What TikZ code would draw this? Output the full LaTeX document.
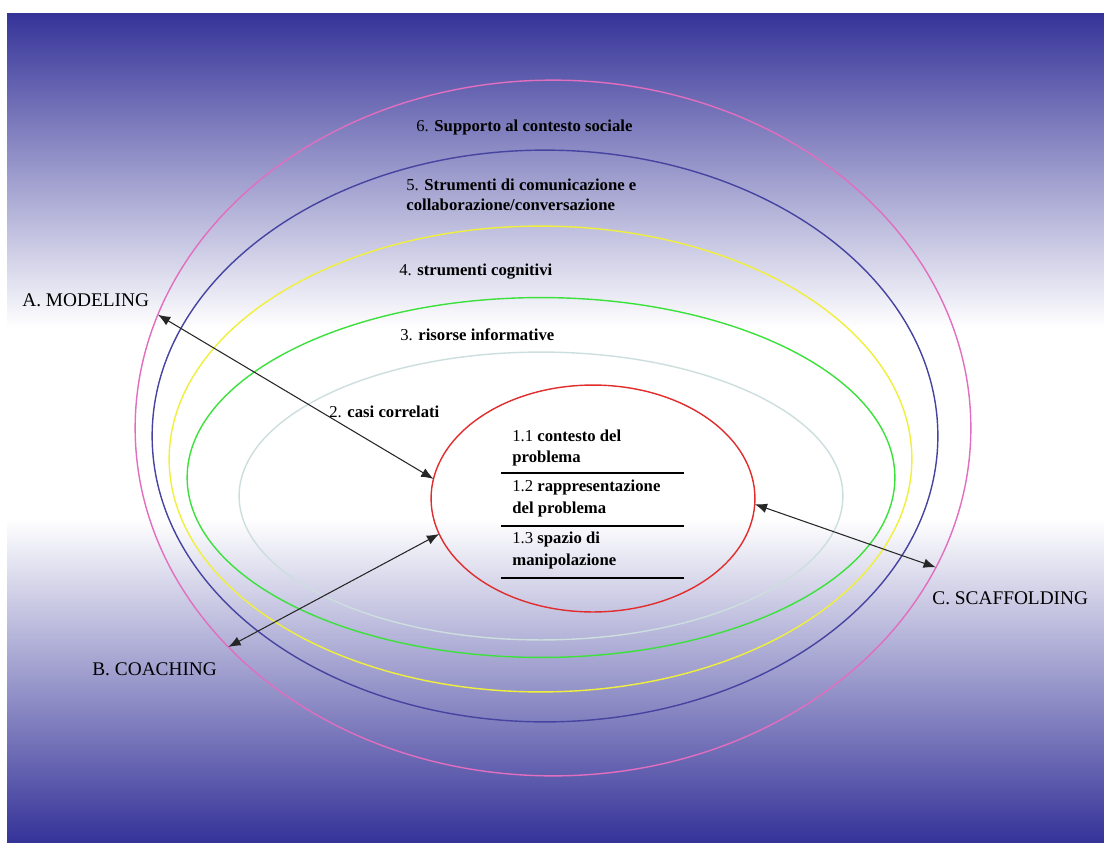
\documentclass[tikz,border=0pt]{standalone}
\usepackage{fontspec}
\setmainfont{Liberation Serif}
\usetikzlibrary{shapes.geometric,arrows.meta}

\definecolor{bgblue}{RGB}{53,51,152}
\definecolor{ringpink}{RGB}{225,110,190}
\definecolor{ringblue}{RGB}{70,68,160}
\definecolor{ringyellow}{RGB}{240,240,60}
\definecolor{ringgreen}{RGB}{60,225,60}
\definecolor{ringpale}{RGB}{205,222,222}
\definecolor{ringred}{RGB}{225,45,45}

\pgfdeclareverticalshading{bgfade}{100bp}{color(0bp)=(bgblue); color(25bp)=(bgblue);
	color(44.5bp)=(white); color(56bp)=(white); color(75bp)=(bgblue); color(100bp)=(bgblue)}

\tikzset{
	ring/.style={ellipse, draw, inner sep=0pt, outer sep=0pt, line width=0.8pt},
	layer/.style={font=\fontsize{9.5}{11.5}\selectfont, anchor=west, align=left, inner sep=0pt},
	part/.style={font=\fontsize{9.5}{12.4}\selectfont, anchor=west, align=left, inner sep=0pt},
	phase/.style={font=\fontsize{11}{13}\selectfont, anchor=west, inner sep=0pt},
	link/.style={{Latex[length=7pt,width=5.5pt]}-{Latex[length=7pt,width=5.5pt]}, line width=0.6pt, black!85}
}

\begin{document}
\begin{tikzpicture}[x=0.02cm, y=-0.02cm]
	\useasboundingbox (0,0) rectangle (1104,842);
	\shade[shading=bgfade] (7,13) rectangle (1104,842);

	% the rings, outer to inner
	\foreach \nm/\cx/\cy/\rx/\ry/\col in {social/553/428/418/348/ringpink,
		comm/545/436/393/286/ringblue,
		cogn/540.5/459/371.5/233/ringyellow,
		info/541/477.5/354/180/ringgreen,
		cases/541/496/302/144/ringpale,
		core/593/498.5/162/113.5/ringred}
	{
		\node[ring, draw=\col, minimum width=\rx*0.04cm, minimum height=\ry*0.04cm] (\nm) at (\cx,\cy) {};
	}

	\node[layer] (l6) at (416,127) {6. \textbf{Supporto al contesto sociale}};
	\node[layer] (l5) at (406,195) {5. \textbf{Strumenti di comunicazione e}\\\textbf{collaborazione/conversazione}};
	\node[layer] (l4) at (399,272) {4. \textbf{strumenti cognitivi}};
	\node[layer] (l3) at (400,335) {3. \textbf{risorse informative}};
	\node[layer] (l2) at (329,412) {2. \textbf{casi correlati}};

	\node[part] (p1) at (512,448) {1.1 \textbf{contesto del}\\\textbf{problema}};
	\node[part] (p2) at (512,498.5) {1.2 \textbf{rappresentazione}\\\textbf{del problema}};
	\node[part] (p3) at (512,550.5) {1.3 \textbf{spazio di}\\\textbf{manipolazione}};
	\foreach \y in {473,526,578}
	{
		\draw[line width=0.7pt] (501,\y) -- ++(183,0);
	}

	\node[phase] (modeling) at (22,300) {A. MODELING};
	\node[phase] (coaching) at (92,669) {B. COACHING};
	\node[phase] (scaffolding) at (932,598) {C. SCAFFOLDING};

	\draw[link] (social.164.5) -- (core.173.3);
	\draw[link] (social.214) -- (core.193.6);
	\draw[link] (core.358.7) -- (social.340.9);
\end{tikzpicture}
\end{document}
